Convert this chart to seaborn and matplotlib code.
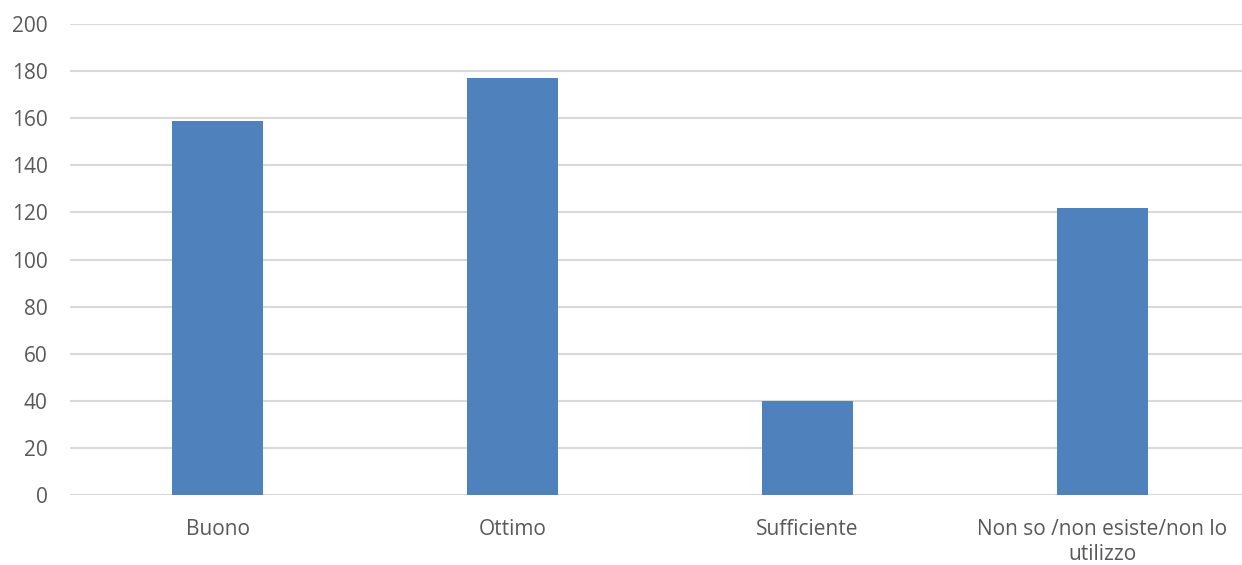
import matplotlib
matplotlib.use("Agg")
import matplotlib.pyplot as plt
import seaborn as sns
import pandas as pd

categories = ["Buono", "Ottimo", "Sufficiente", "Non so /non esiste/non lo\nutilizzo"]
values = [159, 177, 40, 122]
y_ticks = [0, 20, 40, 60, 80, 100, 120, 140, 160, 180, 200]

sns.set_style("white")
plt.rcParams["font.family"] = ["Open Sans", "DejaVu Sans"]

df = pd.DataFrame({"categoria": categories, "valore": values})

fig = plt.figure(figsize=(12.42, 5.65), dpi=100)
ax = fig.add_axes([70 / 1242, 1 - 495 / 565, 1180 / 1242, 471 / 565])

sns.barplot(data=df, x="categoria", y="valore", color="#4F81BD", width=0.31,
            saturation=1, linewidth=0, ax=ax, zorder=3)

ax.set_ylim(0, 200)
ax.set_yticks(y_ticks)
ax.set_xlim(-0.5, len(categories) - 0.5)
ax.yaxis.grid(True, color="#D9D9D9", linewidth=1.5, zorder=0)
ax.set_axisbelow(True)
for s in ax.spines.values():
    s.set_visible(False)
ax.set_xlabel("")
ax.set_ylabel("")
ax.tick_params(axis="both", length=0, colors="#595959", labelsize=15)
ax.tick_params(axis="y", pad=16)
ax.tick_params(axis="x", pad=17)
for lbl in ax.get_xticklabels():
    lbl.set_linespacing(1.3)

fig.savefig("out.png", dpi=100)
